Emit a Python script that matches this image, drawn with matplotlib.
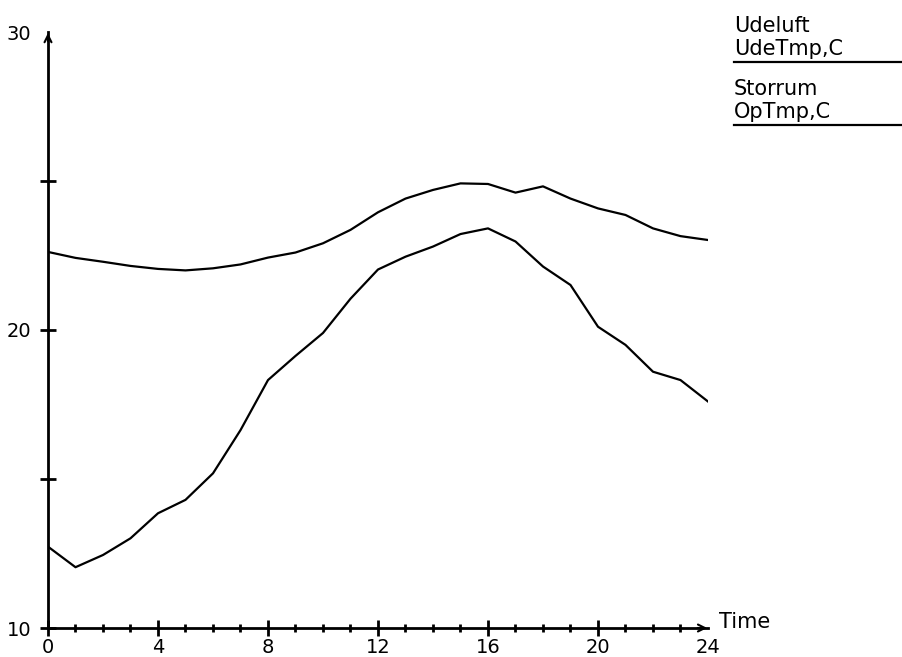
import matplotlib
matplotlib.use("Agg")
import matplotlib.pyplot as plt

hours = list(range(25))
udeluft = [12.73, 12.04, 12.45, 13.01, 13.85, 14.30, 15.19, 16.64, 18.32, 19.13,
           19.90, 21.05, 22.03, 22.46, 22.80, 23.22, 23.41, 22.97, 22.13, 21.51,
           20.11, 19.50, 18.60, 18.32, 17.60]
storrum = [22.62, 22.42, 22.29, 22.15, 22.05, 22.00, 22.07, 22.20, 22.43, 22.60,
           22.91, 23.36, 23.95, 24.41, 24.70, 24.92, 24.90, 24.61, 24.82, 24.41,
           24.08, 23.86, 23.41, 23.15, 23.02]
legend_labels = [["Udeluft", "UdeTmp,C"], ["Storrum", "OpTmp,C"]]
x_ticks = [0, 4, 8, 12, 16, 20, 24]
y_major = [10, 15, 20, 25, 30]
y_labeled = [10, 20, 30]

FS = 14
W, H = 903, 657
fig = plt.figure(figsize=(W / 100, H / 100), dpi=100)
ax = fig.add_axes([48 / W, 1 - 628 / H, 660 / W, 596 / H])

ax.plot(hours, storrum, color="black", lw=1.6)
ax.plot(hours, udeluft, color="black", lw=1.6)

ax.set_xlim(0, 24)
ax.set_ylim(10, 30)
for s in ["top", "right"]:
    ax.spines[s].set_visible(False)
for s in ["left", "bottom"]:
    ax.spines[s].set_linewidth(2)

ax.set_xticks(x_ticks)
ax.set_xticklabels([str(t) for t in x_ticks])
ax.set_xticks([t for t in range(1, 24) if t % 4 != 0], minor=True)
ax.set_yticks(y_major)
ax.set_yticklabels([str(v) if v in y_labeled else "" for v in y_major])

ax.tick_params(axis="both", which="major", direction="inout", length=12, width=2,
               labelsize=FS, color="black")
ax.tick_params(axis="x", which="minor", direction="inout", length=6, width=2)
ax.tick_params(axis="x", which="major", pad=1)
ax.tick_params(axis="y", which="major", pad=6)

# no tick marks at the arrow tips
ax.xaxis.get_major_ticks()[-1].tick1line.set_visible(False)
ax.yaxis.get_major_ticks()[-1].tick1line.set_visible(False)

# arrow heads
ax.annotate("", xy=(0, 1.003), xytext=(0, 0.98), xycoords="axes fraction",
            arrowprops=dict(arrowstyle="->,head_length=0.5,head_width=0.25", lw=1.5, color="black"),
            annotation_clip=False)
ax.annotate("", xy=(1.003, 0), xytext=(0.98, 0), xycoords="axes fraction",
            arrowprops=dict(arrowstyle="->,head_length=0.5,head_width=0.25", lw=1.5, color="black"),
            annotation_clip=False)

fig.text(719 / W, 1 - 628 / H, "Time", fontsize=FS + 1, va="baseline", ha="left")

# legend block
baselines = [32, 95]
for i, (l1, l2) in enumerate(legend_labels):
    b = baselines[i]
    fig.text(734 / W, 1 - b / H, l1, fontsize=FS + 1, va="baseline", ha="left")
    fig.text(734 / W, 1 - (b + 23) / H, l2, fontsize=FS + 1, va="baseline", ha="left")
    ly = 1 - (b + 30) / H
    fig.add_artist(plt.Line2D([734 / W, 1.0], [ly, ly], color="black", lw=1.6,
                              transform=fig.transFigure))

fig.savefig("out.png", dpi=100)
